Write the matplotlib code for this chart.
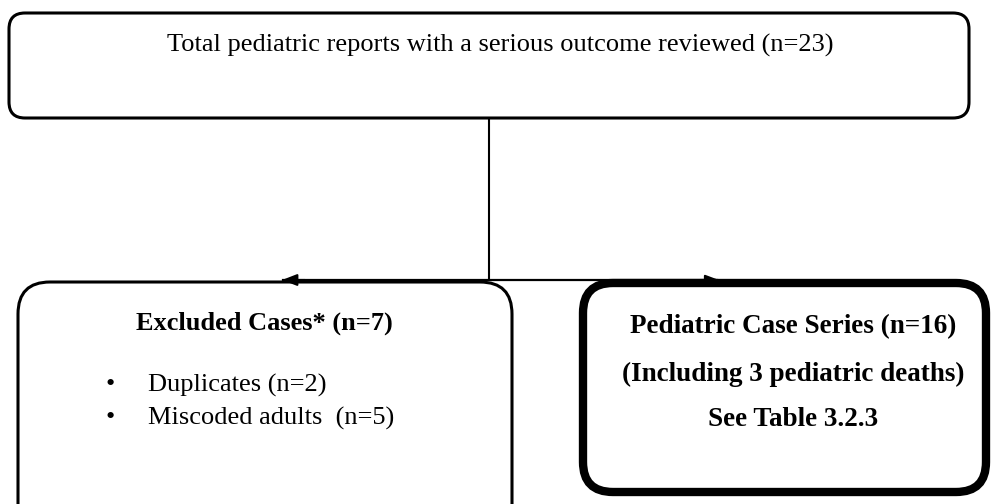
import matplotlib
matplotlib.use("Agg")
import matplotlib.pyplot as plt
from matplotlib.patches import FancyBboxPatch

# Flowchart content
top_text = "Total pediatric reports with a serious outcome reviewed (n=23)"
excluded_title = "Excluded Cases* (n=7)"
excluded_items = ["Duplicates (n=2)", "Miscoded adults  (n=5)"]
series_lines = ["Pediatric Case Series (n=16)", "(Including 3 pediatric deaths)", "See Table 3.2.3"]

W, H = 994, 504
fig = plt.figure(figsize=(W / 100, H / 100), dpi=100)
ax = fig.add_axes([0, 0, 1, 1])
ax.set_xlim(0, W)
ax.set_ylim(H, 0)
ax.axis("off")

serif = ["Liberation Serif", "DejaVu Serif"]

def rbox(x0, y0, x1, y1, lw, r=22, z=2):
    p = FancyBboxPatch((x0, y0), x1 - x0, y1 - y0,
                       boxstyle=f"round,pad=0,rounding_size={r}",
                       fc="white", ec="black", lw=lw, zorder=z)
    ax.add_patch(p)

# Top box
rbox(9, 13, 969, 118, 2.2, r=16)
ax.text(500, 45, top_text, ha="center", va="center", fontsize=19,
        family=serif, zorder=3)

# Connectors
ax.plot([489, 489], [118, 280], color="black", lw=1.5, zorder=1)
ax.plot([283, 717], [280, 280], color="black", lw=1.6, zorder=4)

# Boxes
rbox(18, 282, 512, 560, 2.2, r=32)
rbox(583, 283, 986, 492, 6.0, r=30, z=3)

# Arrow heads
ax.annotate("", xy=(282, 280), xytext=(305, 280),
            arrowprops=dict(arrowstyle="-|>,head_length=0.9,head_width=0.35",
                            color="black", lw=1.5, shrinkA=0, shrinkB=0), zorder=5)
ax.annotate("", xy=(719, 280), xytext=(700, 280),
            arrowprops=dict(arrowstyle="-|>,head_length=0.8,head_width=0.3",
                            color="black", lw=1.5, shrinkA=0, shrinkB=0), zorder=5)

# Excluded box text
ax.text(264, 323, excluded_title, ha="center", va="center", fontsize=19,
        fontweight="bold", family=serif, zorder=3)
for i, item in enumerate(excluded_items):
    y = 385 + i * 33
    ax.text(110, y, "\u2022", ha="center", va="center", fontsize=19,
            family=serif, zorder=3)
    ax.text(148, y, item, ha="left", va="center", fontsize=19,
            family=serif, zorder=3)

# Case series text
for y, line in zip([327, 374, 420], series_lines):
    ax.text(793, y, line, ha="center", va="center", fontsize=19.5,
            fontweight="bold", family=serif, zorder=4)

fig.savefig("out.png", dpi=100, facecolor="white")
